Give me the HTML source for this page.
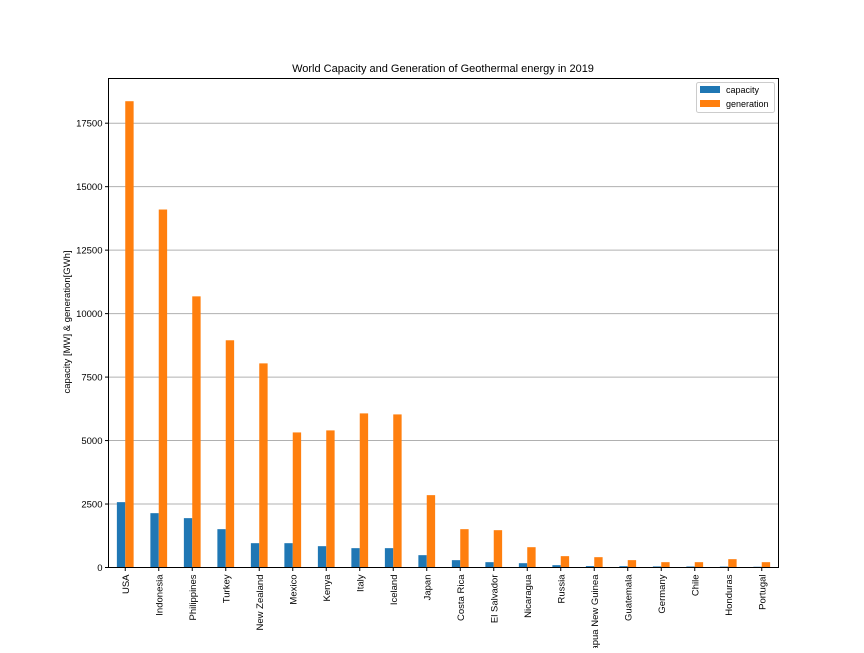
<!DOCTYPE html>
<html><head><meta charset="utf-8"><style>
body{margin:0;background:#fff;}
svg text{font-family:"Liberation Sans","Noto Sans CJK KR",sans-serif;fill:#000;}
</style></head><body>
<svg id="chart" width="864" height="648" xmlns="http://www.w3.org/2000/svg">
<rect width="864" height="648" fill="#fff"/>
<text x="443" y="72" font-size="11" text-anchor="middle">World Capacity and Generation of Geothermal energy in 2019</text>
<g id="grid"></g>
<g id="bars"></g>
<g id="ticks"></g>
<rect x="108.5" y="78.5" width="670" height="489" fill="none" stroke="#000" stroke-width="1"/>
<text transform="translate(70,322) rotate(-90)" font-size="9.5" text-anchor="middle">capacity [MW] &amp; generation[GWh]</text>
<g>
<rect x="696.5" y="82.5" width="78" height="30" fill="#fff" stroke="#ccc" rx="2"/>
<rect x="700" y="86" width="20" height="7" fill="#1f77b4"/>
<text x="726" y="93" font-size="9">capacity</text>
<rect x="700" y="100" width="20" height="7" fill="#ff7f0e"/>
<text x="726" y="107" font-size="9">generation</text>
</g>
</svg>
<script>
const categories=["USA","Indonesia","Philippines","Turkey","New Zealand","Mexico","Kenya","Italy","Iceland","Japan","Costa Rica","El Salvador","Nicaragua","Russia","Papua New Guinea","Guatemala","Germany","Chile","Honduras","Portugal"];
const capacity=[2574,2140,1944,1510,958,958,840,762,762,486,289,210,170,92,56,52,42,40,35,29];
const generation=[18366,14100,10680,8950,8040,5320,5400,6070,6030,2850,1510,1470,800,447,407,290,210,210,328,210];
const yTicks=[0,2500,5000,7500,10000,12500,15000,17500];
const NS="http://www.w3.org/2000/svg";
const L=108.5,R=778.5,T=78.5,B=567.5;
const n=categories.length;
const bw=(R-L)/n;
function xC(i){return L+(i+0.5)*bw;}
function y(v){return B-v*(444.3/17500);}
function mk(tag,attrs,parent){const e=document.createElementNS(NS,tag);for(const k in attrs)e.setAttribute(k,attrs[k]);parent.appendChild(e);return e;}
const grid=document.getElementById('grid'),bars=document.getElementById('bars'),ticks=document.getElementById('ticks');
yTicks.forEach(t=>{
  if(t>0){const g=mk('line',{x1:L,x2:R,y1:y(t),y2:y(t),stroke:'#b0b0b0','stroke-width':1},grid);
  
  }
  const tk=mk('line',{x1:L-3.5,x2:L,y1:y(t),y2:y(t),stroke:'#000'},ticks);
  
  
  const tx=mk('text',{x:L-6,y:y(t)+3.5,'font-size':9.5,'text-anchor':'end'},ticks);
  tx.textContent=t;
  
  
});
categories.forEach((c,i)=>{
  const cx=xC(i),w=bw*0.25;
  const b1=mk('rect',{x:cx-w,y:y(capacity[i]),width:w,height:B-y(capacity[i]),fill:'#1f77b4'},bars);
  
  
  const b2=mk('rect',{x:cx,y:y(generation[i]),width:w,height:B-y(generation[i]),fill:'#ff7f0e'},bars);
  
  
  const tk=mk('line',{x1:cx,x2:cx,y1:B,y2:B+3.5,stroke:'#000'},ticks);
  
  
  const tx=mk('text',{transform:`translate(${cx+3.5},${B+7}) rotate(-90)`,'font-size':9.5,'text-anchor':'end'},ticks);
  tx.textContent=c;
  
  
});
</script>
</body></html>
